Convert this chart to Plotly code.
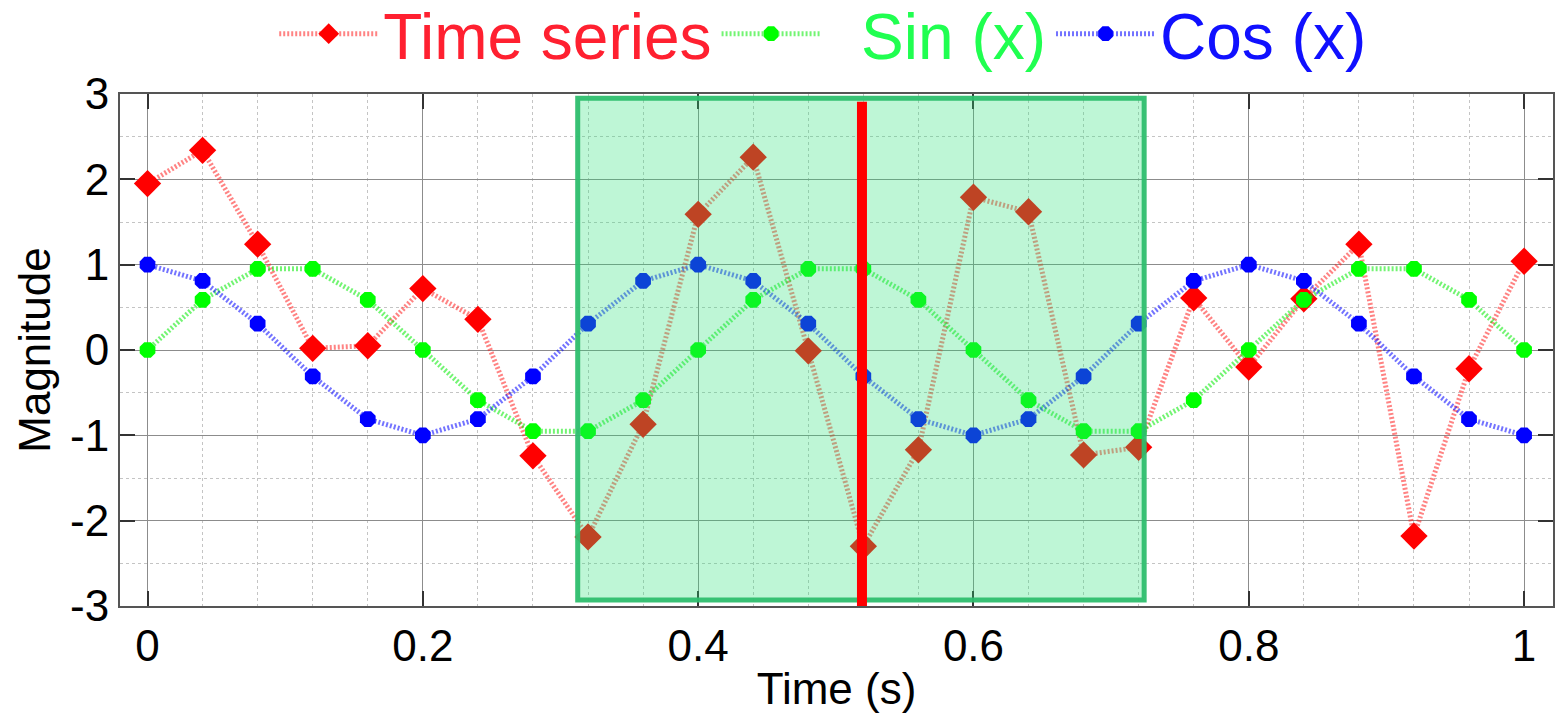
import plotly.graph_objects as go

time_s = [0.00, 0.04, 0.08, 0.12, 0.16, 0.20, 0.24, 0.28, 0.32, 0.36, 0.40, 0.44, 0.48,
          0.52, 0.56, 0.60, 0.64, 0.68, 0.72, 0.76, 0.80, 0.84, 0.88, 0.92, 0.96, 1.00]
time_series = [1.95, 2.34, 1.24, 0.02, 0.05, 0.72, 0.36, -1.24, -2.19, -0.87, 1.59, 2.26, -0.01,
               -2.30, -1.17, 1.79, 1.62, -1.23, -1.14, 0.61, -0.20, 0.60, 1.24, -2.18, -0.22, 1.04]
sin_x = [0.0, 0.588, 0.951, 0.951, 0.588, 0.0, -0.588, -0.951, -0.951, -0.588, 0.0, 0.588, 0.951,
         0.951, 0.588, 0.0, -0.588, -0.951, -0.951, -0.588, 0.0, 0.588, 0.951, 0.951, 0.588, 0.0]
cos_x = [1.0, 0.809, 0.309, -0.309, -0.809, -1.0, -0.809, -0.309, 0.309, 0.809, 1.0, 0.809, 0.309,
         -0.309, -0.809, -1.0, -0.809, -0.309, 0.309, 0.809, 1.0, 0.809, 0.309, -0.309, -0.809, -1.0]

series_names = ["Time series", "Sin (x)", "Cos (x)"]
x_ticks = [0, 0.2, 0.4, 0.6, 0.8, 1]
x_tick_labels = ["0", "0.2", "0.4", "0.6", "0.8", "1"]
y_ticks = [-3, -2, -1, 0, 1, 2, 3]
y_tick_labels = ["-3", "-2", "-1", "0", "1", "2", "3"]

# highlighted window and cursor (data coordinates)
window_x = [0.3125, 0.724]
window_y = [-2.93, 2.95]
cursor_x = 0.519
cursor_y = [-3.14, 2.91]

FONT = "Liberation Sans, Arial, sans-serif"

fig = go.Figure()
fig.add_trace(go.Scatter(
    x=time_s, y=time_series, mode="lines+markers",
    name='<span style="color:#ff2030">%s</span>' % series_names[0],
    line=dict(color="rgba(255,30,30,0.55)", width=5, dash="2px,2px"),
    marker=dict(symbol="diamond", size=21, color="#ff0000"),
))
fig.add_trace(go.Scatter(
    x=time_s, y=sin_x, mode="lines+markers",
    name='&nbsp;&nbsp;<span style="color:#20ff50">%s</span>' % series_names[1],
    line=dict(color="rgba(0,235,0,0.55)", width=5, dash="2px,2px"),
    marker=dict(symbol="octagon", size=17, color="#00ff00"),
))
fig.add_trace(go.Scatter(
    x=time_s, y=cos_x, mode="lines+markers",
    name='<span style="color:#1010ff">%s</span>' % series_names[2],
    line=dict(color="rgba(0,0,255,0.55)", width=5, dash="2px,2px"),
    marker=dict(symbol="octagon", size=17, color="#0000ff"),
))

fig.add_shape(type="rect", xref="x", yref="y",
              x0=window_x[0], x1=window_x[1], y0=window_y[0], y1=window_y[1],
              fillcolor="rgba(40,225,120,0.30)",
              line=dict(color="rgba(46,190,110,0.95)", width=5), layer="above")
fig.add_shape(type="line", xref="x", yref="y",
              x0=cursor_x, x1=cursor_x, y0=cursor_y[0], y1=cursor_y[1],
              line=dict(color="#ff0000", width=10), layer="above")

axis_common = dict(
    showline=True, linecolor="#555555", linewidth=2, mirror="ticks",
    ticks="inside", ticklen=15, tickwidth=2, tickcolor="#333333",
    showgrid=True, gridcolor="#8c8c8c", gridwidth=1,
    zeroline=False, automargin=False,
    tickfont=dict(family=FONT, size=44, color="#000000"),
)

fig.update_xaxes(
    range=[-0.02, 1.021], tickvals=x_ticks, ticktext=x_tick_labels,
    title=dict(text="Time (s)", font=dict(family=FONT, size=44, color="#000"), standoff=4),
    minor=dict(dtick=0.04, showgrid=True, gridcolor="#c4c4c4", griddash="dot", gridwidth=1, ticks=""),
    **axis_common,
)
fig.update_yaxes(
    range=[-3, 3], tickvals=y_ticks, ticktext=y_tick_labels,
    title=dict(text="Magnitude", font=dict(family=FONT, size=44, color="#000"), standoff=6),
    minor=dict(dtick=0.5, showgrid=True, gridcolor="#c4c4c4", griddash="dot", gridwidth=1, ticks=""),
    **axis_common,
)

fig.update_layout(
    width=1555, height=720,
    margin=dict(l=120, r=2, t=94, b=114, autoexpand=False),
    paper_bgcolor="white", plot_bgcolor="white",
    font=dict(family=FONT, color="#000"),
    legend=dict(orientation="h", x=0.5294, xanchor="center", xref="container",
                y=1.117, yanchor="middle", yref="paper",
                font=dict(family=FONT, size=64), bgcolor="rgba(0,0,0,0)",
                itemwidth=99, tracegroupgap=0),
    showlegend=True,
)

fig.write_html("out.html", config={"displayModeBar": False},
               post_script="document.body.style.margin='0px';document.body.style.overflow='hidden';")
